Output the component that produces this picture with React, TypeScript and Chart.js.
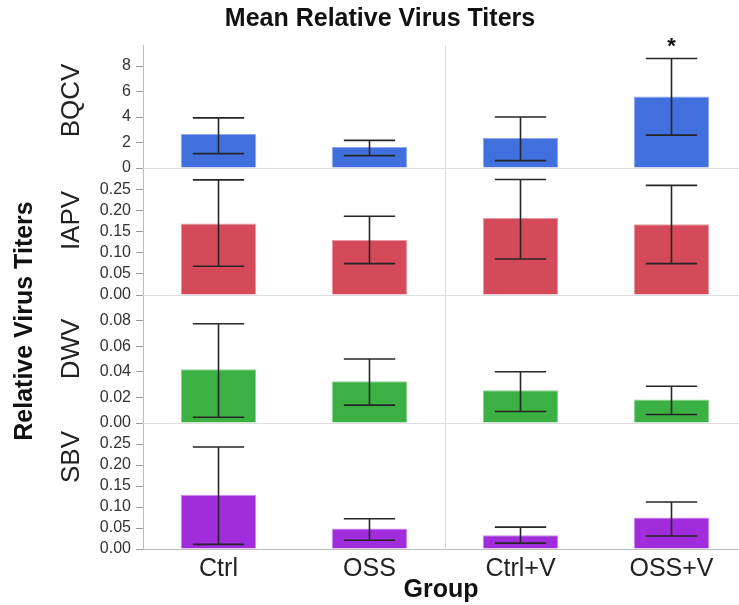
import React, { useEffect, useRef } from 'react';
import { Chart, registerables } from 'chart.js';

Chart.register(...registerables);

// ---------- data ----------
const categories = ['Ctrl', 'OSS', 'Ctrl+V', 'OSS+V'];
const panelNames = ['BQCV', 'IAPV', 'DWV', 'SBV'];

const bqcvMean = [2.66, 1.64, 2.35, 5.61];
const bqcvLow = [1.13, 0.97, 0.58, 2.58];
const bqcvHigh = [3.93, 2.17, 4.0, 8.59];

const iapvMean = [0.169, 0.13, 0.182, 0.167];
const iapvLow = [0.068, 0.074, 0.085, 0.074];
const iapvHigh = [0.272, 0.186, 0.273, 0.259];

const dwvMean = [0.0419, 0.0327, 0.0256, 0.0184];
const dwvLow = [0.0045, 0.014, 0.009, 0.0066];
const dwvHigh = [0.0775, 0.05, 0.04, 0.0287];

const sbvMean = [0.129, 0.049, 0.033, 0.075];
const sbvLow = [0.011, 0.021, 0.014, 0.031];
const sbvHigh = [0.243, 0.072, 0.052, 0.112];

const bqcvSignificance = ['', '', '', '*'];

const panelMax = [9.65, 0.3, 0.1, 0.3];
const panelStep = [2, 0.05, 0.02, 0.05];
const panelDecimals = [0, 2, 2, 2];

// ---------- style ----------
const FONT = "'Liberation Sans', Arial, Helvetica, sans-serif";
const panelColors = ['#4170de', '#d54a5a', '#3bb143', '#a02cdc'];
const panelBorders = ['#8fa9ec', '#e69aa3', '#8fd595', '#c98bec'];
const panelWeights = [123, 127, 128, 126];
const panelLabelShift = [-6, -11, -10, -29];

const means = [bqcvMean, iapvMean, dwvMean, sbvMean];
const lows = [bqcvLow, iapvLow, dwvLow, sbvLow];
const highs = [bqcvHigh, iapvHigh, dwvHigh, sbvHigh];
const axisIds = ['yBQCV', 'yIAPV', 'yDWV', 'ySBV'];

export default function App() {
  const ref = useRef<HTMLCanvasElement | null>(null);

  useEffect(() => {
    if (!ref.current) return;

    const overlay = {
      id: 'overlay',
      beforeDatasetsDraw(chart: any) {
        const ctx = chart.ctx;
        const { left, right, top, bottom } = chart.chartArea;
        const xs = chart.scales.x;
        ctx.save();
        ctx.strokeStyle = '#dddddd';
        ctx.lineWidth = 1;
        axisIds.forEach((id, i) => {
          if (i === 3) return;
          const y = Math.round(chart.scales[id].getPixelForValue(0)) + 0.5;
          ctx.beginPath();
          ctx.moveTo(left, y);
          ctx.lineTo(right, y);
          ctx.stroke();
        });
        const xd = Math.round((xs.getPixelForValue(1) + xs.getPixelForValue(2)) / 2) + 0.5;
        ctx.beginPath();
        ctx.moveTo(xd, top);
        ctx.lineTo(xd, bottom);
        ctx.stroke();
        ctx.restore();
      },
      afterDatasetsDraw(chart: any) {
        const ctx = chart.ctx;
        ctx.save();
        ctx.strokeStyle = '#262626';
        ctx.lineWidth = 1.6;
        axisIds.forEach((id, i) => {
          const ys = chart.scales[id];
          const meta = chart.getDatasetMeta(i);
          meta.data.forEach((bar: any, j: number) => {
            const x = bar.x;
            const half = bar.width * 0.34;
            const yH = ys.getPixelForValue(highs[i][j]);
            const yL = ys.getPixelForValue(lows[i][j]);
            ctx.beginPath();
            ctx.moveTo(x, yH);
            ctx.lineTo(x, yL);
            ctx.moveTo(x - half, yH);
            ctx.lineTo(x + half, yH);
            ctx.moveTo(x - half, yL);
            ctx.lineTo(x + half, yL);
            ctx.stroke();
            if (i === 0 && bqcvSignificance[j]) {
              ctx.fillStyle = '#111';
              ctx.font = `bold 22px ${FONT}`;
              ctx.textAlign = 'center';
              ctx.textBaseline = 'middle';
              ctx.fillText(bqcvSignificance[j], x, yH - 12);
            }
          });
        });
        ctx.restore();
      },
      afterDraw(chart: any) {
        const ctx = chart.ctx;
        ctx.save();
        ctx.fillStyle = '#111';
        ctx.textAlign = 'center';
        ctx.textBaseline = 'middle';
        // title
        ctx.font = `bold 25px ${FONT}`;
        ctx.fillText('Mean Relative Virus Titers', 380, 19);
        // x title
        ctx.fillText('Group', 441, 590);
        // y title
        ctx.save();
        ctx.translate(25, 321);
        ctx.rotate(-Math.PI / 2);
        ctx.fillText('Relative Virus Titers', 0, 0);
        ctx.restore();
        // panel labels
        ctx.font = `26px ${FONT}`;
        ctx.fillStyle = '#222';
        axisIds.forEach((id, i) => {
          const s = chart.scales[id];
          const cy = (s.top + s.bottom) / 2 + panelLabelShift[i];
          ctx.save();
          ctx.translate(72, cy);
          ctx.rotate(-Math.PI / 2);
          ctx.fillText(panelNames[i], 0, 0);
          ctx.restore();
        });
        ctx.restore();
      },
    };

    const makeY = (i: number) => ({
      type: 'linear',
      position: 'left',
      stack: 'panels',
      stackWeight: panelWeights[i],
      min: 0,
      max: panelMax[i],
      afterFit: (s: any) => {
        s.width = 143;
      },
      afterBuildTicks: (s: any) => {
        s.ticks = s.ticks.filter((t: any) => t.value < panelMax[i] - panelStep[i] * 0.4);
      },
      ticks: {
        stepSize: panelStep[i],
        includeBounds: false,
        autoSkip: false,
        font: { size: 16, family: FONT },
        color: '#333',
        padding: 5,
        callback: (v: any) => Number(v).toFixed(panelDecimals[i]),
      },
      grid: { drawOnChartArea: false, drawTicks: true, tickLength: 7, color: '#9a9a9a' },
      border: { display: true, color: '#bdbdbd' },
    });

    const chart = new Chart(ref.current, {
      type: 'bar',
      data: {
        labels: categories,
        datasets: axisIds.map((id, i) => ({
          label: panelNames[i],
          data: means[i],
          yAxisID: id,
          backgroundColor: panelColors[i],
          borderColor: panelBorders[i],
          borderWidth: 1,
          categoryPercentage: 1,
          barPercentage: 0.5,
          grouped: false,
        })),
      },
      options: {
        responsive: false,
        animation: false,
        devicePixelRatio: 1,
        layout: { padding: { top: 45, right: 13, left: 0, bottom: 0 } },
        plugins: { legend: { display: false }, tooltip: { enabled: false }, title: { display: false } },
        scales: {
          x: {
            type: 'category',
            offset: true,
            grid: { display: false },
            border: { display: true, color: '#bdbdbd' },
            ticks: { font: { size: 25, family: FONT }, color: '#222', padding: -3, autoSkip: false },
            afterFit: (s: any) => {
              s.height = 56;
            },
          },
          // defined bottom-to-top so the stack places BQCV on top
          ySBV: makeY(3),
          yDWV: makeY(2),
          yIAPV: makeY(1),
          yBQCV: makeY(0),
        } as any,
      },
      plugins: [overlay],
    } as any);

    return () => chart.destroy();
  }, []);

  return (
    <div
      style={{
        position: 'fixed',
        left: 0,
        top: 0,
        width: 739,
        height: 605,
        overflow: 'hidden',
        background: '#fff',
      }}
    >
      <canvas ref={ref} width={760} height={605} style={{ width: 760, height: 605, display: 'block' }} />
    </div>
  );
}
